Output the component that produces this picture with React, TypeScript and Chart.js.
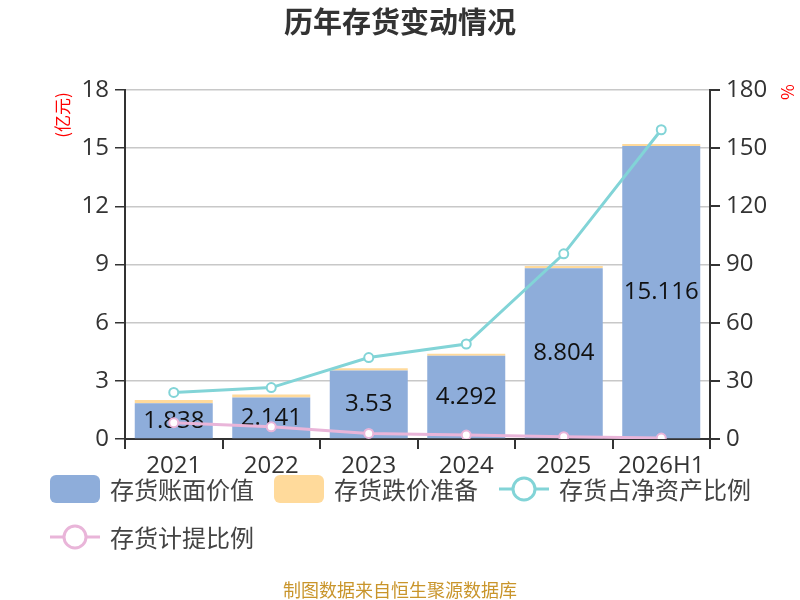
import { useEffect, useRef } from "react"
import { Chart, registerables } from "chart.js"

Chart.register(...registerables)

const years = ["2021", "2022", "2023", "2024", "2025", "2026H1"]
const bookValue = [1.838, 2.141, 3.53, 4.292, 8.804, 15.116]
const impairment = [0.17, 0.15, 0.12, 0.1, 0.12, 0.1]
const netAssetRatio = [24, 26.5, 42, 49, 95.5, 159.5]
const provisionRatio = [8.4, 6.3, 2.9, 2.0, 1.2, 0.5]
const leftTicks = [0, 3, 6, 9, 12, 15, 18]
const rightTicks = [0, 30, 60, 90, 120, 150, 180]

const FONT = "'Noto Sans CJK SC', 'Noto Sans', sans-serif"
const NUM_FONT = "'Open Sans', 'Noto Sans CJK SC', sans-serif"
const BLUE = "#8EADDA"
const YELLOW = "#FFDA9B"
const CYAN = "#82D4D7"
const PINK = "#E9B5D9"

const legendItems = [
  { label: "存货账面价值", color: BLUE, kind: "box", x: 50, y: 489 },
  { label: "存货跌价准备", color: YELLOW, kind: "box", x: 274, y: 489 },
  { label: "存货占净资产比例", color: CYAN, kind: "line", x: 499, y: 489 },
  { label: "存货计提比例", color: PINK, kind: "line", x: 50, y: 537 },
]

const decorPlugin = {
  id: "decor",
  afterDatasetDraw(chart: any, args: any) {
    if (args.index !== 0) return
    const ctx = chart.ctx
    ctx.save()
    ctx.font = `24px ${NUM_FONT}`
    ctx.fillStyle = "#111"
    ctx.textAlign = "center"
    ctx.textBaseline = "middle"
    args.meta.data.forEach((bar: any, i: number) => {
      const p = bar.getProps(["x", "y", "base"], true)
      ctx.fillText(String(bookValue[i]), p.x, (p.y + p.base) / 2)
    })
    ctx.restore()
  },
  afterDraw(chart: any) {
    const ctx = chart.ctx
    ctx.save()
    // title
    ctx.fillStyle = "#333"
    ctx.font = `bold 29px ${FONT}`
    ctx.textAlign = "center"
    ctx.textBaseline = "middle"
    ctx.fillText("历年存货变动情况", 400, 22)

    // units
    ctx.fillStyle = "#ff0000"
    ctx.font = `17px ${FONT}`
    ctx.save()
    ctx.translate(63, 115)
    ctx.rotate(-Math.PI / 2)
    ctx.fillText("(亿元)", 0, 0)
    ctx.restore()
    ctx.save()
    ctx.translate(787, 92)
    ctx.rotate(Math.PI / 2)
    ctx.fillText("%", 0, 0)
    ctx.restore()

    // legend
    ctx.font = `24px ${FONT}`
    ctx.textAlign = "left"
    legendItems.forEach((it) => {
      if (it.kind === "box") {
        ctx.fillStyle = it.color
        ctx.beginPath()
        ctx.roundRect(it.x, it.y - 14, 50, 28, 6)
        ctx.fill()
      } else {
        ctx.strokeStyle = it.color
        ctx.lineWidth = 3
        ctx.beginPath()
        ctx.moveTo(it.x, it.y)
        ctx.lineTo(it.x + 50, it.y)
        ctx.stroke()
        ctx.fillStyle = "#fff"
        ctx.beginPath()
        ctx.arc(it.x + 25, it.y, 11, 0, Math.PI * 2)
        ctx.fill()
        ctx.stroke()
      }
      ctx.fillStyle = "#444"
      ctx.fillText(it.label, it.x + 60, it.y + 1)
    })

    // footer
    ctx.fillStyle = "#C9952B"
    ctx.font = `18px ${FONT}`
    ctx.textAlign = "center"
    ctx.fillText("制图数据来自恒生聚源数据库", 400, 590)
    ctx.restore()
  },
}

export default function App() {
  const chartRef = useRef<HTMLCanvasElement | null>(null)
  const chartInstance = useRef<Chart | null>(null)

  useEffect(() => {
    document.body.style.margin = "0"
    if (!chartRef.current) return
    if (chartInstance.current) chartInstance.current.destroy()
    const ctx = chartRef.current.getContext("2d")
    if (!ctx) return

    const tickFont = { family: NUM_FONT, size: 24 }

    chartInstance.current = new Chart(ctx, {
      type: "bar",
      data: {
        labels: years,
        datasets: [
          {
            type: "bar",
            label: "存货账面价值",
            data: bookValue,
            backgroundColor: BLUE,
            yAxisID: "y",
            stack: "s",
            barPercentage: 0.8,
            categoryPercentage: 1,
            order: 2,
          },
          {
            type: "bar",
            label: "存货跌价准备",
            data: impairment,
            backgroundColor: YELLOW,
            yAxisID: "y",
            stack: "s",
            barPercentage: 0.8,
            categoryPercentage: 1,
            order: 2,
          },
          {
            type: "line",
            label: "存货占净资产比例",
            data: netAssetRatio,
            borderColor: CYAN,
            backgroundColor: "#fff",
            borderWidth: 3,
            pointRadius: 4.5,
            pointBorderWidth: 2,
            pointBackgroundColor: "#fff",
            pointBorderColor: CYAN,
            tension: 0,
            yAxisID: "y1",
            order: 1,
          },
          {
            type: "line",
            label: "存货计提比例",
            data: provisionRatio,
            borderColor: PINK,
            backgroundColor: "#fff",
            borderWidth: 3,
            pointRadius: 4.5,
            pointBorderWidth: 2,
            pointBackgroundColor: "#fff",
            pointBorderColor: PINK,
            tension: 0,
            yAxisID: "y1",
            order: 1,
          },
        ],
      },
      options: {
        responsive: false,
        animation: false,
        layout: { padding: { top: 90, left: 0, right: 0, bottom: 0 } },
        plugins: {
          legend: { display: false },
          title: { display: false },
          tooltip: { enabled: false },
        },
        scales: {
          x: {
            stacked: true,
            offset: true,
            grid: {
              offset: true,
              drawOnChartArea: false,
              tickLength: 10,
              tickColor: "#333",
              lineWidth: 2,
            },
            border: { color: "#333", width: 2 },
            ticks: { font: tickFont, color: "#333", padding: 3, maxRotation: 0 },
            afterFit: (s: any) => {
              s.height = 161
            },
          },
          y: {
            stacked: true,
            position: "left",
            min: 0,
            max: 18,
            afterBuildTicks: (s: any) => {
              s.ticks = leftTicks.map((v) => ({ value: v }))
            },
            grid: {
              color: "#c8c8c8",
              lineWidth: 1.5,
              tickColor: "#333",
              tickLength: 10,
            },
            border: { color: "#333", width: 2 },
            ticks: { font: tickFont, color: "#333", padding: 6 },
            afterFit: (s: any) => {
              s.width = 125
            },
          },
          y1: {
            position: "right",
            min: 0,
            max: 180,
            afterBuildTicks: (s: any) => {
              s.ticks = rightTicks.map((v) => ({ value: v }))
            },
            grid: {
              drawOnChartArea: false,
              tickColor: "#333",
              tickLength: 10,
              lineWidth: 2,
            },
            border: { color: "#333", width: 2 },
            ticks: { font: tickFont, color: "#333", padding: 6 },
            afterFit: (s: any) => {
              s.width = 90
            },
          },
        },
      },
      plugins: [decorPlugin],
    })

    return () => {
      if (chartInstance.current) {
        chartInstance.current.destroy()
        chartInstance.current = null
      }
    }
  }, [])

  return (
    <div style={{ width: 800, height: 600 }}>
      <canvas ref={chartRef} width={800} height={600} />
    </div>
  )
}
